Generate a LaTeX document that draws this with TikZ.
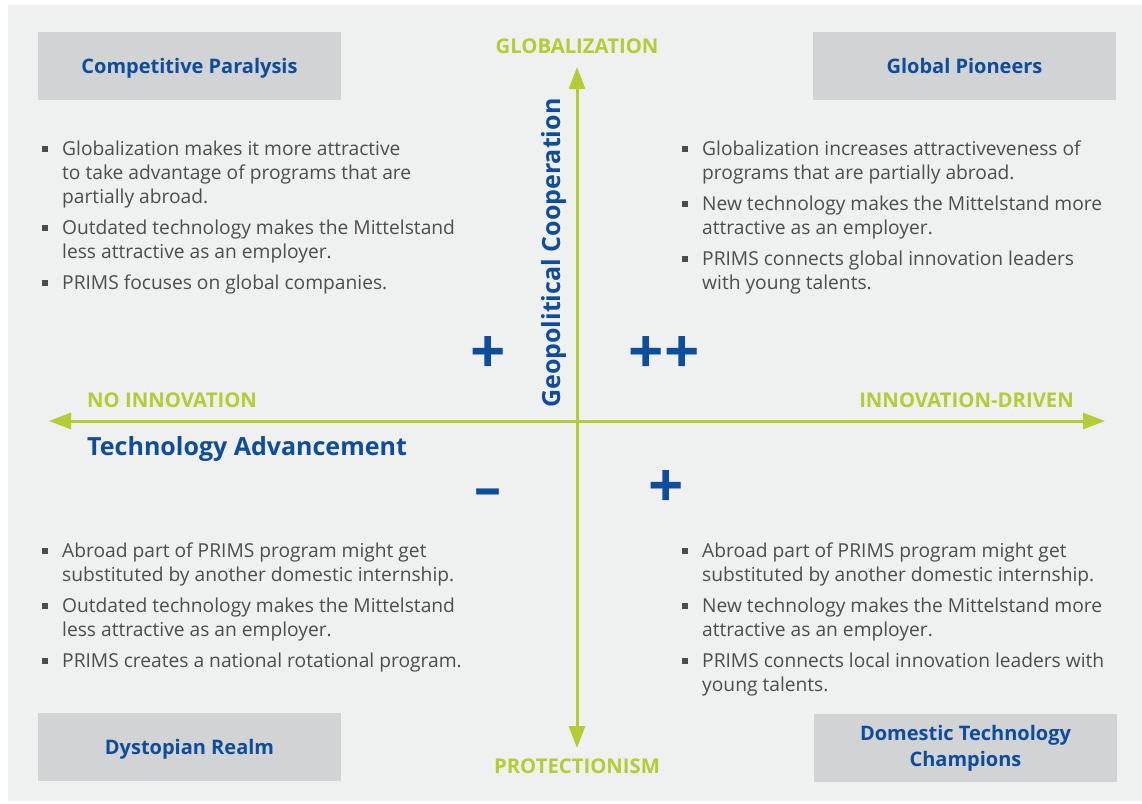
\documentclass[tikz,border=0pt]{standalone}
\usepackage{fontspec}
\setmainfont{Open Sans}
\usetikzlibrary{arrows.meta,positioning}
\definecolor{bggray}{RGB}{239,240,240}
\definecolor{boxgray}{RGB}{209,211,212}
\definecolor{titleblue}{RGB}{14,76,156}
\definecolor{axisgreen}{RGB}{181,204,52}
\definecolor{textgray}{RGB}{77,77,79}

\newcommand{\bul}{\makebox[20pt][l]{\textcolor{textgray}{\rule[3pt]{6pt}{6pt}}}}
\newcommand{\bullets}[1]{\fontsize{19.2}{24}\selectfont\begin{tabular}[t]{@{}l@{}l@{}}#1\end{tabular}}

\begin{document}
\begin{tikzpicture}[x=1pt, y=-1pt,
    headbox/.style={fill=boxgray, minimum width=303pt, minimum height=68pt, text=titleblue, align=center, font=\fontsize{20}{26}\selectfont\bfseries},
    axislabel/.style={text=axisgreen, inner sep=0, font=\fontsize{20.3}{22}\selectfont\bfseries},
    axistitle/.style={text=titleblue, inner sep=0, font=\fontsize{25}{28}\selectfont\bfseries},
    sign/.style={text=titleblue, inner sep=0, font=\fontsize{62}{62}\selectfont\bfseries},
    items/.style={text=textgray, inner sep=0, anchor=base west},
    axis/.style={draw=axisgreen, line width=3pt, {Triangle[length=22pt,width=16pt]}-{Triangle[length=22pt,width=16pt]}}]
    \useasboundingbox (0,0) rectangle (1142,803);
    \fill[bggray] (8,5) rectangle (1142,801);

    % Axes
    \coordinate (left) at (49,421);
    \coordinate (right) at (1105,421);
    \coordinate (top) at (577,67);
    \coordinate (bottom) at (577,748);
    \draw[axis] (left) -- (right);
    \draw[axis] (top) -- (bottom);

    \node[axislabel, anchor=base] (glob) at (577,53) {GLOBALIZATION};
    \node[axislabel, anchor=base] (prot) at (577,773) {PROTECTIONISM};
    \node[axislabel, anchor=base west] (noinno) at (87,407) {NO INNOVATION};
    \node[axislabel, anchor=base east] (inno) at (1074,407) {INNOVATION-DRIVEN};
    \node[axistitle, anchor=base west] (tech) at (87,455) {Technology Advancement};
    \node[axistitle, anchor=base west, rotate=90] (geo) at (560,408) {Geopolitical Cooperation};

    % Signs
    \node[sign] (s1) at (488,355) {+};
    \node[sign] (s2) at (664,355) {++};
    \node[sign, font=\fontsize{54}{54}\selectfont\bfseries] (s3) at (488,498) {--};
    \node[sign] (s4) at (666,489) {+};

    % Scenario boxes
    \node[headbox, text depth=0pt] (cp) at (189.5,66) {Competitive Paralysis};
    \node[headbox, text depth=0pt] (gp) at (964.5,66) {Global Pioneers};
    \node[headbox, text depth=0pt] (dr) at (189.5,747) {Dystopian Realm};
    \node[headbox] (dtc) at (965.5,748) {Domestic Technology\\Champions};

    % Bullet lists
    \node[items] (cpl) at (42,155) {\bullets{
        \bul & Globalization makes it more attractive\\
             & to take advantage of programs that are\\
             & partially abroad.\\[7pt]
        \bul & Outdated technology makes the Mittelstand\\
             & less attractive as an employer.\\[7pt]
        \bul & PRIMS focuses on global companies.}};
    \node[items] (gpl) at (682,155) {\bullets{
        \bul & Globalization increases attractiveveness of\\
             & programs that are partially abroad.\\[7pt]
        \bul & New technology makes the Mittelstand more\\
             & attractive as an employer.\\[7pt]
        \bul & PRIMS connects global innovation leaders\\
             & with young talents.}};
    \node[items] (drl) at (42,557) {\bullets{
        \bul & Abroad part of PRIMS program might get\\
             & substituted by another domestic internship.\\[7pt]
        \bul & Outdated technology makes the Mittelstand\\
             & less attractive as an employer.\\[7pt]
        \bul & PRIMS creates a national rotational program.}};
    \node[items] (dtcl) at (682,557) {\bullets{
        \bul & Abroad part of PRIMS program might get\\
             & substituted by another domestic internship.\\[7pt]
        \bul & New technology makes the Mittelstand more\\
             & attractive as an employer.\\[7pt]
        \bul & PRIMS connects local innovation leaders with\\
             & young talents.}};
\end{tikzpicture}
\end{document}
